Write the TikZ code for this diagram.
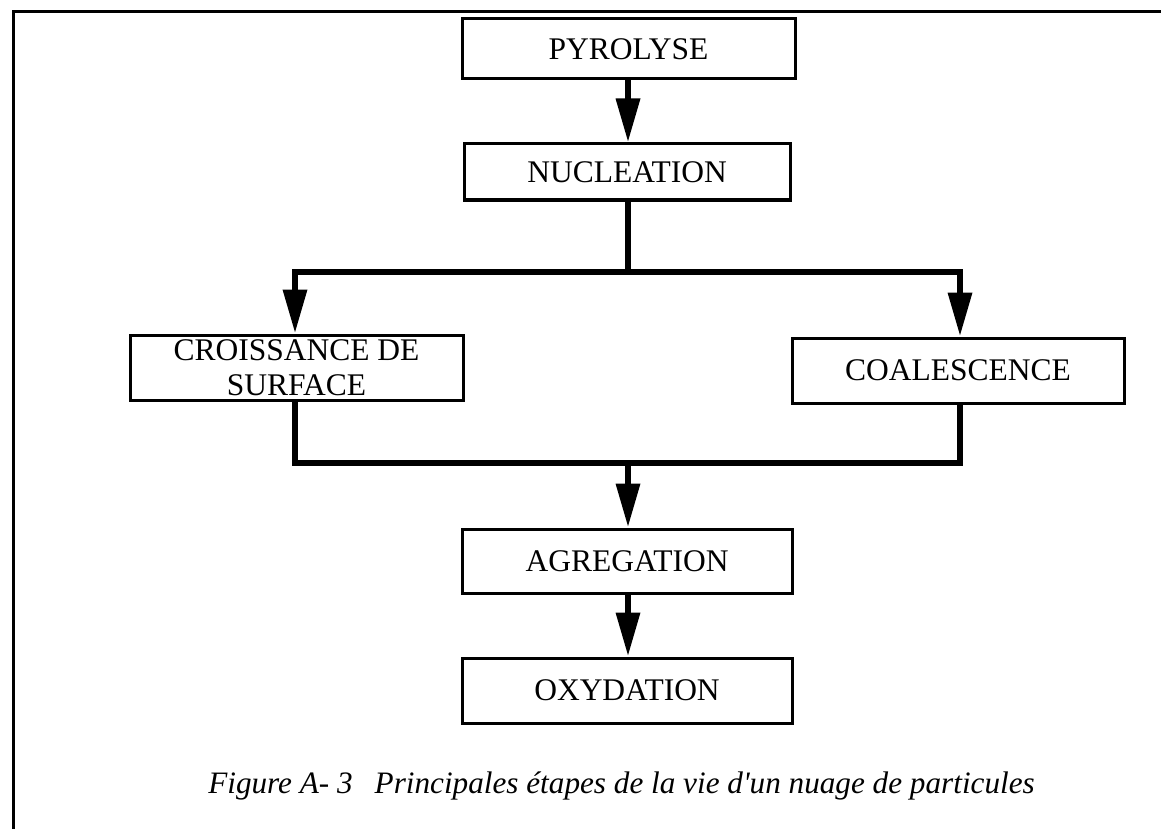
\documentclass[tikz,border=0pt]{standalone}
\usepackage{fontspec}
\setmainfont{Liberation Serif}
\usetikzlibrary{arrows.meta}
\begin{document}
\begin{tikzpicture}[x=1pt,y=-1pt,
  stepbox/.style={draw, line width=3pt, inner sep=0pt, align=center,
    font=\fontsize{31.5}{35}\selectfont},
  conn/.style={line width=6.5pt, line join=miter},
  arr/.style={conn, -{Triangle[length=44pt,width=23pt]}}]
\useasboundingbox (0,0) rectangle (1161,829);
\draw[line width=3pt] (13.5,829) -- (13.5,11.5) -- (1161,11.5);

\node[stepbox, minimum width=333pt, minimum height=60pt] (pyr) at (628.5,49) {PYROLYSE};
\node[stepbox, minimum width=326pt, minimum height=56pt] (nuc) at (627,172) {NUCLEATION};
\node[stepbox, minimum width=333pt, minimum height=65pt] (cro) at (296.5,367.5) {CROISSANCE DE\\SURFACE};
\node[stepbox, minimum width=332pt, minimum height=65pt] (coa) at (958,370.5) {COALESCENCE};
\node[stepbox, minimum width=330pt, minimum height=64pt] (agr) at (627,561) {AGREGATION};
\node[stepbox, minimum width=330pt, minimum height=65pt] (oxy) at (627,690.5) {OXYDATION};

\coordinate (jl) at (295,272);
\coordinate (jr) at (960,272);
\coordinate (jc) at (628,272);
\coordinate (bl) at (295,463);
\coordinate (br) at (960,463);
\coordinate (bc) at (628,463);

\draw[arr] (pyr.south -| jc) -- (nuc.north -| jc);
\draw[conn] (nuc.south -| jc) -- (jc);
\draw[arr] (jc) -- (jl) -- (jl |- cro.north);
\draw[arr] (jc) -- (jr) -- (jr |- coa.north);
\draw[conn] (cro.south -| bl) -- (bl) -- (br) -- (coa.south -| br);
\draw[arr] (bc) -- (bc |- agr.north);
\draw[arr] (agr.south -| bc) -- (bc |- oxy.north);

\node[anchor=base, font=\fontsize{31.2}{36}\selectfont\itshape] (cap) at (621.5,793)
  {Figure A- 3\hspace{22pt}Principales étapes de la vie d\textquotesingle un nuage de particules};
\end{tikzpicture}
\end{document}
